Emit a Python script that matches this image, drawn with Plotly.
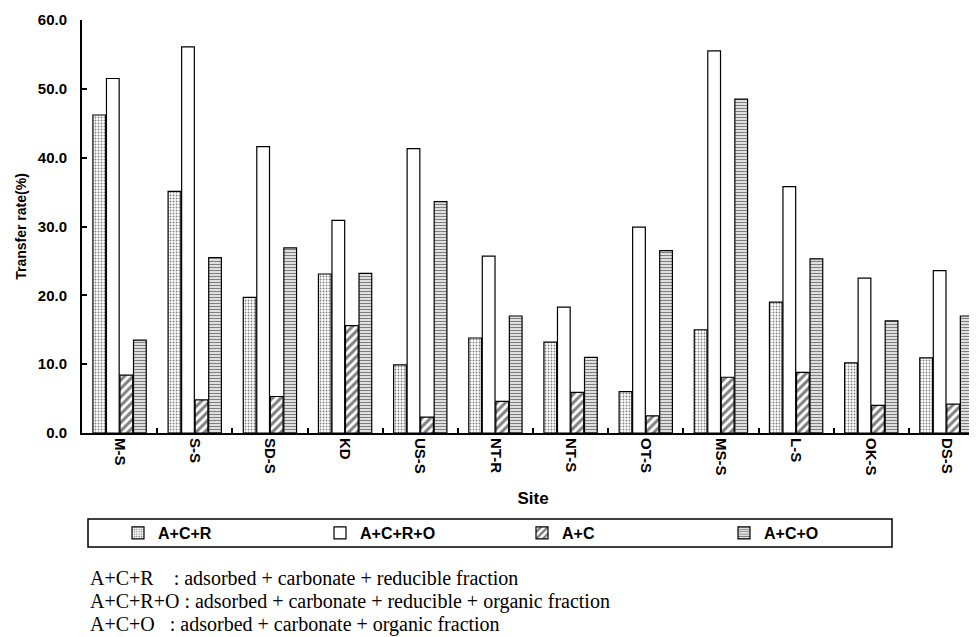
import plotly.graph_objects as go

sites = ["M-S", "S-S", "SD-S", "KD", "US-S", "NT-R", "NT-S", "OT-S", "MS-S", "L-S", "OK-S", "DS-S"]
acr = [46.2, 35.1, 19.7, 23.1, 9.9, 13.8, 13.2, 6.0, 15.0, 19.0, 10.2, 10.9]
acro = [51.5, 56.1, 41.6, 30.9, 41.3, 25.7, 18.3, 29.9, 55.5, 35.8, 22.5, 23.6]
ac = [8.4, 4.8, 5.3, 15.6, 2.3, 4.6, 5.9, 2.5, 8.1, 8.8, 4.0, 4.2]
aco = [13.5, 25.5, 26.9, 23.2, 33.6, 17.0, 11.0, 26.5, 48.5, 25.3, 16.3, 17.0]
series_names = ["A+C+R", "A+C+R+O", "A+C", "A+C+O"]
y_ticks = [0, 10, 20, 30, 40, 50, 60]
notes = [
    "A+C+R\u00a0\u00a0\u00a0\u00a0: adsorbed + carbonate + reducible fraction",
    "A+C+R+O : adsorbed + carbonate + reducible + organic fraction",
    "A+C+O\u00a0\u00a0\u00a0: adsorbed + carbonate + organic fraction",
]

# page has an 8px body margin; layout values below are in figure pixels
OFF = 8
W, H = 977, 637
L, R, T, B = 74, 1, 12, 212
PW, PH = W - L - R, H - T - B

def px_x(xp):
    return (xp - OFF - L) / PW

def px_y(yp):
    return (H - B - (yp - OFF)) / PH

SANS = "Liberation Sans, Arial, sans-serif"
SERIF = "Liberation Serif, Times New Roman, serif"

patterns = [
    dict(shape=".", size=3, solidity=0.3, fgcolor="#000000", bgcolor="#ffffff"),
    dict(shape="", bgcolor="#ffffff"),
    dict(shape="/", size=6, solidity=0.5, fgcolor="#000000", bgcolor="#ffffff"),
    dict(shape="-", size=3, solidity=0.5, fgcolor="#000000", bgcolor="#ffffff"),
]

fig = go.Figure()
for name, vals, pat in zip(series_names, [acr, acro, ac, aco], patterns):
    fig.add_trace(go.Bar(
        name=name, x=sites, y=vals,
        marker=dict(color="#ffffff", line=dict(color="#000000", width=1.2), pattern=pat),
    ))

fig.update_layout(
    width=W, height=H,
    margin=dict(l=L, r=R, t=T, b=B, autoexpand=False),
    paper_bgcolor="white", plot_bgcolor="white",
    barmode="group", bargap=0.28, bargroupgap=0.06,
    font=dict(family=SANS, color="#000000"),
    showlegend=True,
    legend=dict(
        orientation="h", x=px_x(118), xanchor="left", y=px_y(533), yanchor="middle",
        entrywidth=157, entrywidthmode="pixels",
        font=dict(family=SANS, size=16, color="#000000", weight="bold"),
        bgcolor="rgba(0,0,0,0)", borderwidth=0,
    ),
    xaxis=dict(
        range=[-0.5, 11.5], showline=True, linewidth=2, linecolor="#000000",
        ticks="inside", ticklen=5, tickwidth=2, tickcolor="#000000", tickson="boundaries",
        tickangle=90, tickfont=dict(family=SANS, size=15, weight="bold"),
        title=dict(text="Site", font=dict(family=SANS, size=17, weight="bold"), standoff=18),
        showgrid=False, zeroline=False,
    ),
    yaxis=dict(
        range=[0, 60], tickvals=y_ticks, tickformat=".1f",
        showline=True, linewidth=2, linecolor="#000000",
        ticks="inside", ticklen=5, tickwidth=1.5, tickcolor="#000000",
        ticklabelstandoff=10,
        tickfont=dict(family=SANS, size=15, weight="bold"),
        title=dict(text="Transfer rate(%)", font=dict(family=SANS, size=14, weight="bold"), standoff=8),
        showgrid=False, zeroline=False,
    ),
    shapes=[dict(
        type="rect", xref="paper", yref="paper",
        x0=px_x(88), x1=px_x(892), y0=px_y(547), y1=px_y(519),
        line=dict(color="#000000", width=1.5), fillcolor="rgba(0,0,0,0)",
    )],
)

for i, txt in enumerate(notes):
    fig.add_annotation(
        text=txt, xref="paper", yref="paper", x=px_x(88), y=px_y(578 + 23 * i),
        xanchor="left", yanchor="middle", showarrow=False,
        font=dict(family=SERIF, size=20, color="#000000"),
    )

fig.write_html("out.html")
